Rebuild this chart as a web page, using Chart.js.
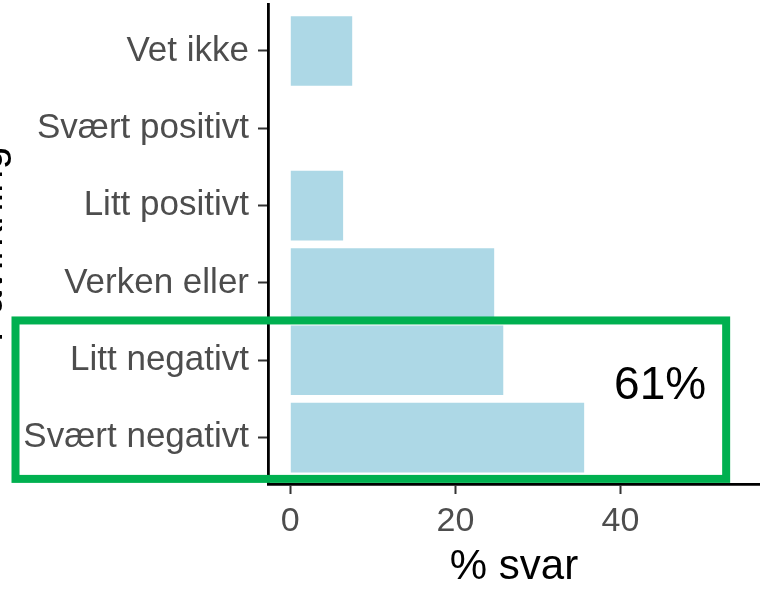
<!DOCTYPE html>
<html>
<head>
<meta charset="utf-8">
<script src="https://cdn.jsdelivr.net/npm/chart.js@4"></script>
<style>
  html, body { margin: 0; padding: 0; background: #fff; }
</style>
</head>
<body>
<canvas id="chart" width="760" height="594"></canvas>
<script>
const categories = ['Vet ikke', 'Svært positivt', 'Litt positivt', 'Verken eller', 'Litt negativt', 'Svært negativt'];
const shares = [7.5, 0, 6.4, 24.7, 25.8, 35.6];
const xTicks = [0, 20, 40];
const negativeGroup = ['Litt negativt', 'Svært negativt'];

const FONT = '"Liberation Sans", Arial, sans-serif';

// green box around the negative answers, with their summed share
const highlight = {
  id: 'highlight',
  afterDraw(chart) {
    const { ctx, scales: { x, y } } = chart;

    // y title sits mostly outside the picture in the source
    ctx.save();
    ctx.translate(1.5, (y.top + y.bottom) / 2);
    ctx.rotate(-Math.PI / 2);
    ctx.font = '42px ' + FONT;
    ctx.fillStyle = '#000';
    ctx.textAlign = 'center';
    ctx.textBaseline = 'alphabetic';
    ctx.fillText('Påvirkning', 0, 0);
    ctx.restore();

    const idx = negativeGroup.map(c => categories.indexOf(c));
    const first = Math.min(...idx);
    const last = Math.max(...idx);
    const left = 15.5;
    const right = x.getPixelForValue(52.8);
    const top = y.getPixelForValue(first - 0.515);
    const bottom = y.getPixelForValue(last + 0.534);

    ctx.save();
    ctx.strokeStyle = '#00B050';
    ctx.lineWidth = 8;
    ctx.strokeRect(left, top, right - left, bottom - top);

    const total = idx.reduce((s, i) => s + shares[i], 0);
    ctx.font = '46px ' + FONT;
    ctx.fillStyle = '#000';
    ctx.textAlign = 'center';
    ctx.textBaseline = 'middle';
    ctx.fillText(Math.round(total) + '%', x.getPixelForValue(44.8), y.getPixelForValue(first + 0.34));
    ctx.restore();
  }
};

new Chart(document.getElementById('chart'), {
  type: 'bar',
  data: {
    datasets: [{
      data: shares.map((v, i) => ({ x: v, y: i })),
      backgroundColor: '#ADD8E6',
      borderWidth: 0,
      barPercentage: 0.9,
      categoryPercentage: 1,
    }],
  },
  options: {
    indexAxis: 'y',
    responsive: false,
    animation: false,
    layout: { padding: { top: 4.6, left: 0, right: 0, bottom: 0 } },
    scales: {
      x: {
        type: 'linear',
        min: -2.7,
        max: 56.9,
        afterBuildTicks: s => { s.ticks = xTicks.map(v => ({ value: v })); },
        afterFit: s => { s.height = 110; s.paddingLeft = 0; s.paddingRight = 0; },
        border: { color: '#000', width: 2.8 },
        grid: { drawOnChartArea: false, tickLength: 10, tickColor: '#333', tickWidth: 2 },
        ticks: { color: '#4D4D4D', padding: 7, font: { family: FONT, size: 34 } },
        title: {
          display: true,
          text: '% svar',
          color: '#000',
          font: { family: FONT, size: 42 },
          padding: { top: 0, bottom: 1 },
        },
      },
      y: {
        type: 'linear',
        reverse: true,
        offset: false,
        min: -0.6,
        max: 5.6,
        afterBuildTicks: s => { s.ticks = categories.map((c, i) => ({ value: i })); },
        afterFit: s => { s.width = 268; s.paddingTop = 0; s.paddingBottom = 0; },
        border: { color: '#000', width: 2.8 },
        grid: { offset: false, drawOnChartArea: false, tickLength: 10, tickColor: '#333', tickWidth: 2 },
        ticks: {
          color: '#4D4D4D',
          padding: 9,
          font: { family: FONT, size: 35 },
          callback: v => categories[v],
        },
      },
    },
    plugins: {
      legend: { display: false },
      tooltip: { enabled: false },
    },
  },
  plugins: [highlight],
});
</script>
</body>
</html>
